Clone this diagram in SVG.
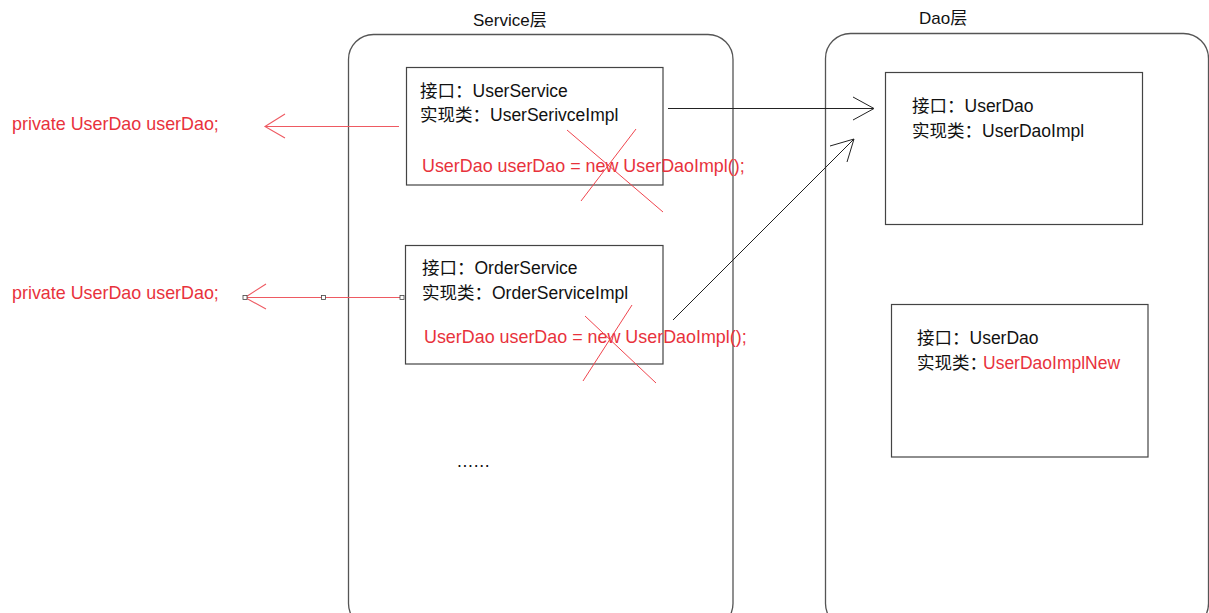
<svg xmlns="http://www.w3.org/2000/svg" width="1209" height="613" viewBox="0 0 1209 613">
<style>
text{font-family:"Liberation Sans","Noto Sans CJK SC",sans-serif;font-size:17.5px;fill:#111}
.red{fill:#e8323c}
.code{font-size:17.9px}
.title{font-size:17px}
.container{fill:none;stroke:#555;stroke-width:1.3}
.box{fill:#fff;stroke:#444;stroke-width:1.2}
.arrow{fill:none;stroke:#222;stroke-width:1}
.rarrow{fill:none;stroke:#ee5a62;stroke-width:1.1}
.cross{stroke:#f0454e;stroke-width:1}
.handle{fill:#fff;stroke:#444;stroke-width:0.8}
</style>
<rect width="1209" height="613" fill="#fff"/>

<g id="service-layer">
<rect class="container" x="348.5" y="34.5" width="384.5" height="594" rx="25"/>
<text class="title" x="473" y="26">Service层</text>
<text x="457" y="467" letter-spacing="0.7">......</text>
</g>

<g id="dao-layer">
<rect class="container" x="825.5" y="33.5" width="383" height="595" rx="25"/>
<text class="title" x="919" y="24">Dao层</text>
</g>

<g id="user-service">
<rect class="box" x="406.5" y="67.5" width="256.5" height="117.5"/>
<text x="420" y="97">接口：UserService</text>
<text x="420" y="121">实现类：UserSerivceImpl</text>
<text class="red code" x="422" y="172">UserDao userDao = new UserDaoImpl();</text>
<line class="cross" x1="567" y1="130" x2="663" y2="212"/>
<line class="cross" x1="636" y1="129" x2="581" y2="201"/>
</g>

<g id="order-service">
<rect class="box" x="405.5" y="245.5" width="257.5" height="118.5"/>
<text x="422" y="274">接口：OrderService</text>
<text x="422" y="299">实现类：OrderServiceImpl</text>
<text class="red code" x="424" y="343">UserDao userDao = new UserDaoImpl();</text>
<line class="cross" x1="585" y1="316" x2="656" y2="383"/>
<line class="cross" x1="632" y1="305" x2="583" y2="381"/>
</g>

<g id="user-dao">
<rect class="box" x="885.5" y="72.5" width="257" height="152"/>
<text x="912" y="112">接口：UserDao</text>
<text x="912" y="137">实现类：UserDaoImpl</text>
</g>

<g id="user-dao-new">
<rect class="box" x="891.5" y="304.5" width="256.5" height="152.5"/>
<text x="917" y="344">接口：UserDao</text>
<text x="917" y="369">实现类：<tspan class="red" dx="-4">UserDaoImplNew</tspan></text>
</g>

<g id="field-1">
<text class="red code" x="12" y="130">private UserDao userDao;</text>
</g>
<g id="field-2">
<text class="red code" x="12" y="299">private UserDao userDao;</text>
</g>

<g id="connectors">
<line class="arrow" x1="668" y1="108.5" x2="873" y2="108.5"/>
<polyline class="arrow" points="853,97 874,108.5 853,120"/>
<line class="arrow" x1="673" y1="320" x2="854" y2="139"/>
<polyline class="arrow" points="830,146 854,139 847,162"/>
<line class="rarrow" x1="399" y1="126.5" x2="265" y2="126.5"/>
<polyline class="rarrow" points="285,114 265,126.5 285,138"/>
<line class="rarrow" x1="402" y1="297.5" x2="245" y2="297.5"/>
<polyline class="rarrow" points="266,284 245,297.5 266,309"/>
<rect class="handle" x="243" y="295.5" width="4" height="4"/>
<rect class="handle" x="321.5" y="295.5" width="4" height="4"/>
<rect class="handle" x="400" y="295.5" width="4" height="4"/>
</g>
</svg>
